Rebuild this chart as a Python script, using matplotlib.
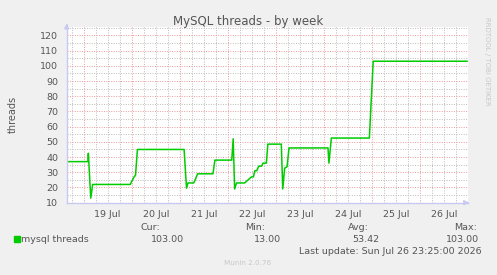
import matplotlib
matplotlib.use("Agg")
import matplotlib.pyplot as plt
from matplotlib.ticker import FixedLocator, FuncFormatter

# x = day of July (fractional), y = number of threads
days = [18.65, 19.09, 19.10, 19.15, 19.19, 19.97, 20.05, 20.08, 20.12,
        21.09, 21.14, 21.17, 21.29, 21.32, 21.37, 21.69, 21.73, 22.08,
        22.11, 22.14, 22.18, 22.35, 22.42, 22.49, 22.53, 22.56, 22.60,
        22.64, 22.70, 22.73, 22.80, 22.83, 23.11, 23.14, 23.18, 23.23,
        23.27, 24.08, 24.10, 24.15, 24.94, 25.02, 26.97]
threads = [37, 37, 42.5, 13, 22, 22, 27, 28, 45,
           45, 19.5, 23, 23, 25, 29, 29, 38, 38,
           52, 19, 23, 23, 25, 27, 27, 31, 31,
           34, 34, 36, 36, 48.5, 48.5, 19, 32.7, 33.7,
           46, 46, 36, 52.5, 52.5, 103, 103]

day_labels = ["19 Jul", "20 Jul", "21 Jul", "22 Jul", "23 Jul", "24 Jul", "25 Jul", "26 Jul"]
stats_heads = ["Cur:", "Min:", "Avg:", "Max:"]
stats_vals = ["103.00", "13.00", "53.42", "103.00"]

W, H = 497, 275
BG = "#f0f0f0"
TXT = "#555555"
AXC = "#c8c8f0"

plt.rcParams["font.family"] = ["DejaVu Sans"]

fig = plt.figure(figsize=(W / 100, H / 100), dpi=100, facecolor=BG)
ax = fig.add_axes([66.7 / W, 1 - 202.7 / H, (468 - 66.7) / W, (202.7 - 26.7) / H])
ax.set_facecolor("white")

ax.set_xlim(18.65, 26.99)
ax.set_ylim(10, 125.7)

# grid: grey minor, red major
midnights = list(range(19, 27))
quarter = [18.75 + 0.25 * i for i in range(33)]
ax.xaxis.set_major_locator(FixedLocator(midnights))
ax.xaxis.set_minor_locator(FixedLocator([q for q in quarter if q % 1 != 0]))
ax.yaxis.set_major_locator(FixedLocator(range(10, 130, 10)))
ax.yaxis.set_minor_locator(FixedLocator(range(15, 130, 10)))

ax.grid(which="minor", color="#bbbbbb", linestyle=(0, (1, 1.5)), linewidth=0.7)
ax.grid(which="major", color="#eb9a9a", linestyle=(0, (1, 1.5)), linewidth=0.7)
ax.set_axisbelow(True)


def day_fmt(x, pos):
    if abs(x % 1 - 0.5) < 1e-6:
        return day_labels[int(x) - 19]
    return ""


ax.xaxis.set_major_formatter(FuncFormatter(lambda x, p: ""))
ax.xaxis.set_minor_formatter(FuncFormatter(day_fmt))
ax.tick_params(which="both", length=0, labelsize=6.8, labelcolor=TXT)
ax.tick_params(axis="x", which="minor", pad=5)
ax.tick_params(axis="y", which="major", pad=6)

for s in ["top", "right"]:
    ax.spines[s].set_visible(False)
for s in ["left", "bottom"]:
    ax.spines[s].set_color(AXC)
    ax.spines[s].set_linewidth(1)

# axis arrows
ax.annotate("", xy=(1.01, 0), xytext=(0.99, 0), xycoords="axes fraction",
            arrowprops=dict(arrowstyle="-|>", color=AXC, lw=1, mutation_scale=7),
            annotation_clip=False)
ax.annotate("", xy=(0, 1.035), xytext=(0, 0.99), xycoords="axes fraction",
            arrowprops=dict(arrowstyle="-|>", color=AXC, lw=1, mutation_scale=7),
            annotation_clip=False)

ax.plot(days, threads, color="#00cc00", linewidth=1.1)

ax.set_ylabel("threads", fontsize=7, color=TXT, labelpad=16)

fig.text(248 / W, 1 - 21 / H, "MySQL threads - by week", ha="center", va="center",
         fontsize=8.5, color=TXT)
fig.text(487 / W, 1 - 17 / H, "RRDTOOL / TOBI OETIKER", rotation=270, ha="center",
         va="top", fontsize=5, color="#c8c8c8")

# legend / stats
fig.patches.append(plt.Rectangle((14 / W, 1 - 242 / H), 6 / W, 6 / H,
                                 transform=fig.transFigure, color="#00cc00"))
fig.text(21 / W, 1 - 239 / H, "mysql threads", ha="left", va="center", fontsize=6.8, color=TXT)
head_x = [160, 265, 369, 477]
val_x = [184, 281, 379, 479]
for hx, vx, h, v in zip(head_x, val_x, stats_heads, stats_vals):
    fig.text(hx / W, 1 - 227 / H, h, ha="right", va="center", fontsize=6.8, color=TXT)
    fig.text(vx / W, 1 - 239 / H, v, ha="right", va="center", fontsize=6.8, color=TXT)
fig.text(482 / W, 1 - 251 / H, "Last update: Sun Jul 26 23:25:00 2026", ha="right",
         va="center", fontsize=6.8, color=TXT)
fig.text(248 / W, 1 - 263 / H, "Munin 2.0.76", ha="center", va="center",
         fontsize=5.2, color="#c8c8c8")

fig.savefig("out.png", dpi=100, facecolor=BG)
